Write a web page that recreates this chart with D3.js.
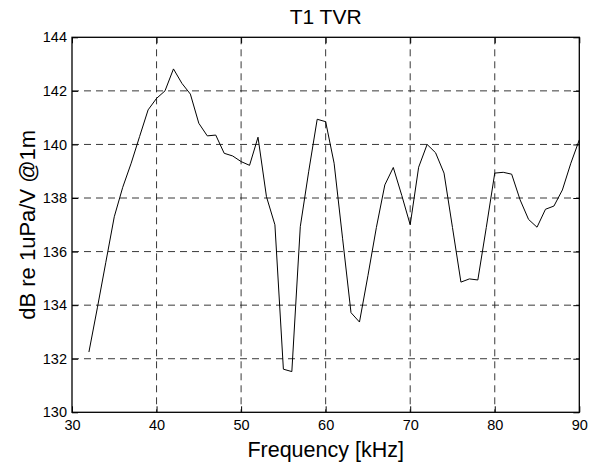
<!DOCTYPE html>
<html>
<head>
<meta charset="utf-8">
<script src="https://cdn.jsdelivr.net/npm/d3@7"></script>
<style>
  body { margin: 0; background: #fff; }
  text { font-family: "Liberation Sans", Arial, sans-serif; fill: #000; }
  .grid line { stroke: #222; stroke-width: 0.9; stroke-dasharray: 7,5; }
</style>
</head>
<body>
<div id="chart"></div>
<script>
// frequencies (kHz)
const freq = [32, 33, 34, 35, 36, 37, 38, 39, 40, 41, 42, 43, 44, 45, 46, 47, 48, 49, 50,
    51, 52, 53, 54, 55, 56, 57, 58, 59, 60, 61, 62, 63, 64, 65, 66, 67, 68, 69, 70,
    71, 72, 73, 74, 75, 76, 77, 78, 79, 80, 81, 82, 83, 84, 85, 86, 87, 88, 89, 90];

// TVR in dB re 1uPa/V @1m
const tvr = [132.25, 133.9, 135.6, 137.3, 138.4, 139.3, 140.3, 141.29, 141.72, 142.0,
    142.82, 142.28, 141.88, 140.79, 140.32, 140.35, 139.67, 139.57, 139.36, 139.22,
    140.27, 138.05, 137.0, 131.61, 131.52, 136.93, 139.0, 140.94, 140.85, 139.3,
    136.5, 133.72, 133.37, 135.1, 136.9, 138.49, 139.14, 138.1, 137.0, 139.15,
    140.0, 139.69, 138.93, 136.9, 134.86, 134.98, 134.94, 136.9, 138.93, 138.96,
    138.89, 137.93, 137.2, 136.91, 137.58, 137.7, 138.3, 139.3, 140.17];

const xTicks = [30, 40, 50, 60, 70, 80, 90];
const yTicks = [130, 132, 134, 136, 138, 140, 142, 144];

const data = freq.map((f, i) => ({ f: f, v: tvr[i] }));

const W = 596, H = 464;
const margin = { top: 37.3, right: 16.7, bottom: 51.7, left: 72 },
    width = W - margin.left - margin.right,
    height = H - margin.top - margin.bottom;

const svg = d3.select("#chart")
    .append("svg")
    .attr("width", W)
    .attr("height", H);

const g = svg.append("g")
    .attr("transform", `translate(${margin.left}, ${margin.top})`);

const x = d3.scaleLinear().domain([30, 90]).range([0, width]);
const y = d3.scaleLinear().domain([130, 144]).range([height, 0]);

// dashed grid
const grid = g.append("g").attr("class", "grid");
grid.selectAll(".gx")
    .data(xTicks.slice(1, -1))
    .enter().append("line")
    .attr("x1", d => x(d)).attr("x2", d => x(d))
    .attr("y1", 0).attr("y2", height);
grid.selectAll(".gy")
    .data(yTicks.slice(1, -1))
    .enter().append("line")
    .attr("x1", 0).attr("x2", width)
    .attr("y1", d => y(d)).attr("y2", d => y(d));

// axes with inward ticks
const tickLen = 6;
g.append("g")
    .attr("transform", `translate(0, ${height})`)
    .call(d3.axisBottom(x).tickValues(xTicks).tickSize(-tickLen).tickPadding(7))
    .call(a => a.select(".domain").remove());
g.append("g")
    .call(d3.axisTop(x).tickValues(xTicks).tickSize(-tickLen).tickFormat(""))
    .call(a => a.select(".domain").remove());
g.append("g")
    .call(d3.axisLeft(y).tickValues(yTicks).tickSize(-tickLen).tickPadding(5))
    .call(a => a.select(".domain").remove());
g.append("g")
    .attr("transform", `translate(${width}, 0)`)
    .call(d3.axisRight(y).tickValues(yTicks).tickSize(-tickLen).tickFormat(""))
    .call(a => a.select(".domain").remove());

g.selectAll(".tick line").attr("stroke", "#000").attr("stroke-width", 1);
g.selectAll(".tick text")
    .style("font-family", "Liberation Sans, Arial, sans-serif")
    .style("font-size", "14.5px")
    .attr("fill", "#000");

// box
g.append("rect")
    .attr("x", 0).attr("y", 0)
    .attr("width", width).attr("height", height)
    .attr("fill", "none")
    .attr("stroke", "#000")
    .attr("stroke-width", 1.3);

// data line
const line = d3.line().x(d => x(d.f)).y(d => y(d.v));
g.append("path")
    .datum(data)
    .attr("fill", "none")
    .attr("stroke", "#000")
    .attr("stroke-width", 1)
    .attr("d", line);

// title and labels
svg.append("text")
    .attr("x", margin.left + width / 2)
    .attr("y", 24)
    .attr("text-anchor", "middle")
    .style("font-size", "21px")
    .text("T1 TVR");

svg.append("text")
    .attr("x", margin.left + width / 2)
    .attr("y", 457)
    .attr("text-anchor", "middle")
    .style("font-size", "21.5px")
    .text("Frequency [kHz]");

svg.append("text")
    .attr("transform", `translate(34.5, ${margin.top + height / 2}) rotate(-90)`)
    .attr("text-anchor", "middle")
    .style("font-size", "22px")
    .text("dB re 1uPa/V @1m");
</script>
</body>
</html>
